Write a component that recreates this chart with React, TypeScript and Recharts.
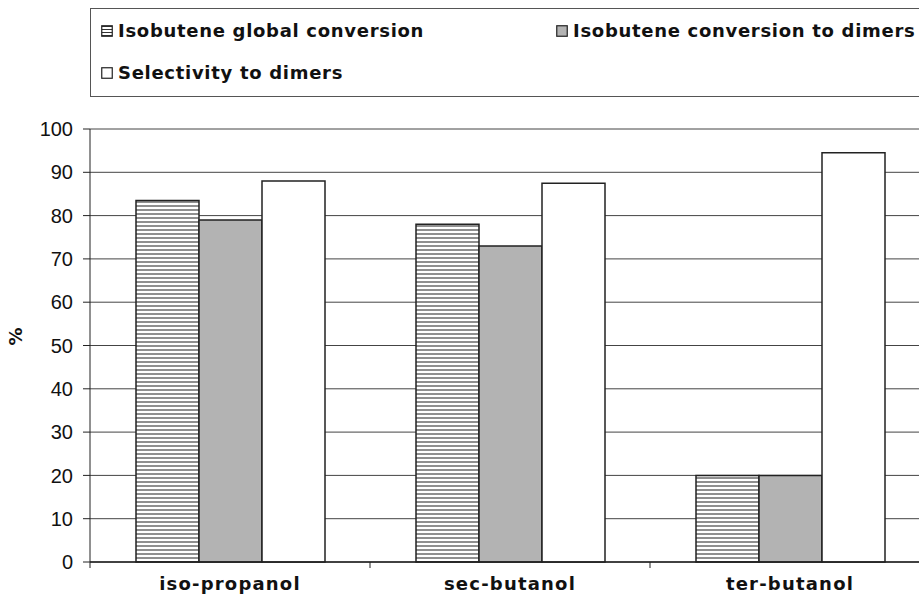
import { BarChart, Bar, XAxis, YAxis, CartesianGrid, Legend } from "recharts";

const categories = ["iso-propanol", "sec-butanol", "ter-butanol"];
const globalConversion = [83.5, 78, 20];
const dimerConversion = [79, 73, 20];
const dimerSelectivity = [88, 87.5, 94.5];
const yTicks = [0, 10, 20, 30, 40, 50, 60, 70, 80, 90, 100];

const seriesNames = [
  "Isobutene global conversion",
  "Isobutene conversion to dimers",
  "Selectivity to dimers",
];

const data = categories.map((name, i) => ({
  name,
  global: globalConversion[i],
  dimers: dimerConversion[i],
  selectivity: dimerSelectivity[i],
}));

const CHART_W = 940;
const CHART_H = 608;
const LEFT = 90;
const RIGHT = 10;
const X_AXIS_H = 30;
const BAND = (CHART_W - LEFT - RIGHT) / categories.length;

const FONT = "'DejaVu Sans', sans-serif";
const STROKE = "#222";
const GRAY = "#b3b3b3";

// category label centred under the band, tick mark on the band's left edge
const CategoryTick = (props: any) => {
  const { x, y, payload } = props;
  return (
    <g>
      <line x1={x - BAND / 2} x2={x - BAND / 2} y1={y - 8} y2={y - 2} stroke={STROKE} strokeWidth={1} />
      <text
        x={x}
        y={y + 20}
        textAnchor="middle"
        fontFamily={FONT}
        fontWeight="bold"
        fontSize={18}
        letterSpacing={1.2}
        fill="#111"
      >
        {payload.value}
      </text>
    </g>
  );
};

const LegendIcon = ({ kind }: { kind: number }) => (
  <svg width={12} height={12} style={{ marginRight: 5 }}>
    <defs>
      <pattern id="legendHatch" width={3} height={3} patternUnits="userSpaceOnUse">
        <rect width={3} height={3} fill="#fff" />
        <line x1={0} x2={3} y1={1.5} y2={1.5} stroke="#333" strokeWidth={1} />
      </pattern>
    </defs>
    <rect
      x={0.75}
      y={0.75}
      width={10.5}
      height={10.5}
      fill={kind === 0 ? "url(#legendHatch)" : kind === 1 ? GRAY : "#fff"}
      stroke={STROKE}
      strokeWidth={1.2}
    />
  </svg>
);

const renderLegend = () => {
  const item = (i: number) => (
    <span style={{ display: "inline-flex", alignItems: "center" }}>
      <LegendIcon kind={i} />
      {seriesNames[i]}
    </span>
  );
  return (
    <div
      style={{
        boxSizing: "border-box",
        width: 860,
        height: 89,
        border: "1.5px solid #555",
        fontFamily: FONT,
        fontWeight: "bold",
        fontSize: 18,
        letterSpacing: 0.7,
        color: "#111",
        padding: "1px 0 0 10px",
        lineHeight: "42px",
      }}
    >
      <div style={{ display: "flex", height: 42, alignItems: "center" }}>
        <div style={{ width: 455 }}>{item(0)}</div>
        <div>{item(1)}</div>
      </div>
      <div style={{ display: "flex", height: 42, alignItems: "center" }}>{item(2)}</div>
    </div>
  );
};

export default function App() {
  return (
    <div
      style={{
        position: "absolute",
        left: 0,
        top: 0,
        width: 919,
        height: 608,
        overflow: "hidden",
        background: "#fff",
      }}
    >
      <BarChart
        width={CHART_W}
        height={CHART_H}
        data={data}
        margin={{ top: 129, right: RIGHT, bottom: 46 - X_AXIS_H, left: 0 }}
        barCategoryGap={46}
        barGap={0}
      >
        <defs>
          <pattern id="hatch" width={4} height={4} patternUnits="userSpaceOnUse">
            <rect width={4} height={4} fill="#fff" />
            <line x1={0} x2={4} y1={2} y2={2} stroke="#444" strokeWidth={1.2} />
          </pattern>
        </defs>
        <CartesianGrid vertical={false} stroke="#444" strokeWidth={1} />
        <XAxis
          dataKey="name"
          height={X_AXIS_H}
          tick={<CategoryTick />}
          tickLine={false}
          axisLine={{ stroke: STROKE, strokeWidth: 1.5 }}
          interval={0}
        />
        <YAxis
          width={LEFT}
          domain={[0, 100]}
          ticks={yTicks}
          interval={0}
          tickSize={7}
          tickMargin={10}
          tick={{ fontFamily: "'Liberation Sans', Arial, sans-serif", fontSize: 20, fill: "#111" }}
          tickLine={{ stroke: STROKE }}
          axisLine={{ stroke: STROKE }}
          label={{
            value: "%",
            angle: -90,
            position: "insideLeft",
            offset: 16,
            style: { fontFamily: FONT, fontWeight: "bold", fontSize: 18, fill: "#111" },
          }}
        />
        <Legend
          layout="vertical"
          verticalAlign="middle"
          align="center"
          content={renderLegend}
          wrapperStyle={{ position: "absolute", top: 8, left: 90, width: 860 }}
        />
        <Bar dataKey="global" name={seriesNames[0]} fill="url(#hatch)" stroke={STROKE} strokeWidth={1.5} isAnimationActive={false} />
        <Bar dataKey="dimers" name={seriesNames[1]} fill={GRAY} stroke={STROKE} strokeWidth={1.5} isAnimationActive={false} />
        <Bar dataKey="selectivity" name={seriesNames[2]} fill="#fff" stroke={STROKE} strokeWidth={1.5} isAnimationActive={false} />
      </BarChart>
    </div>
  );
}
